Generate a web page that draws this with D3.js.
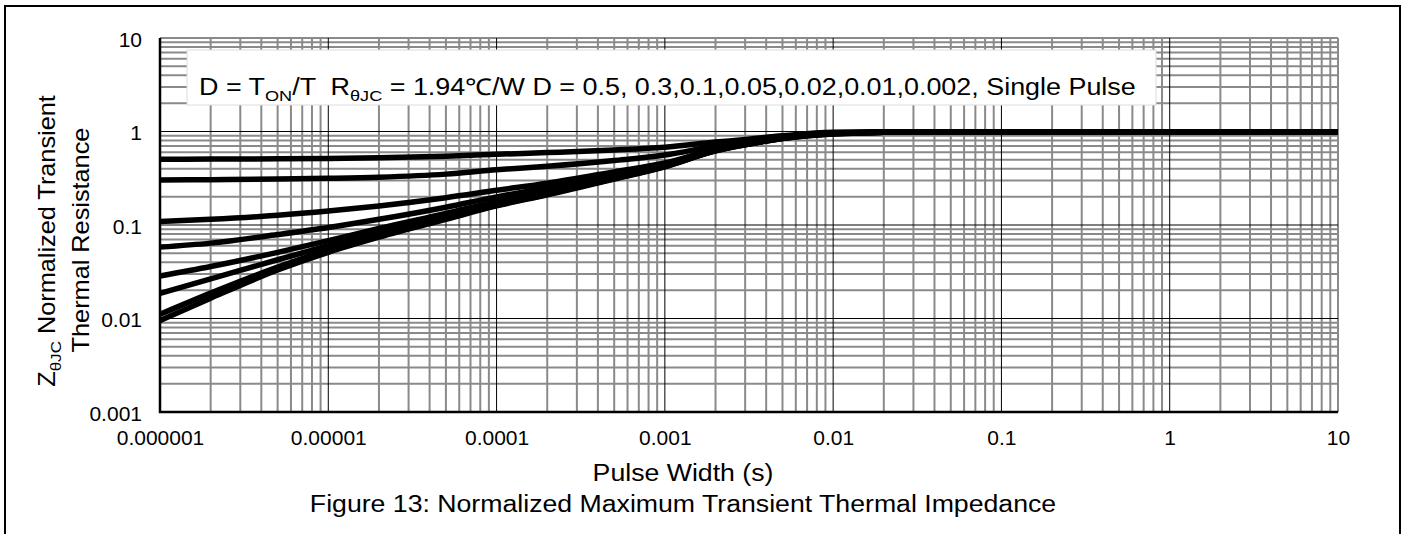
<!DOCTYPE html>
<html>
<head>
<meta charset="utf-8">
<script src="https://cdn.jsdelivr.net/npm/d3@7"></script>
<style>
  html, body { margin: 0; padding: 0; background: #fff; }
  svg { display: block; }
  text { font-family: Arial, "Liberation Sans", sans-serif; fill: #000; white-space: pre; }
</style>
</head>
<body>
<svg id="chart" width="1407" height="534"></svg>
<script>
// ---- data ----
const pulseWidth = [1e-6, 2e-6, 5e-6, 1e-5, 2e-5, 5e-5, 1e-4, 2e-4, 5e-4, 1e-3, 2e-3, 3e-3, 5e-3, 1e-2, 2e-2, 3e-2, 1e-1, 1, 10];
const zD050   = [0.505, 0.507, 0.510, 0.515, 0.525, 0.545, 0.570, 0.595, 0.635, 0.68, 0.77, 0.82, 0.90, 0.98, 0.99, 0.99, 0.99, 0.99, 0.99];
const zD030   = [0.303, 0.305, 0.310, 0.316, 0.325, 0.350, 0.390, 0.425, 0.490, 0.56, 0.70, 0.78, 0.88, 0.97, 0.99, 0.99, 0.99, 0.99, 0.99];
const zD010   = [0.109, 0.115, 0.127, 0.141, 0.160, 0.196, 0.235, 0.280, 0.370, 0.46, 0.65, 0.75, 0.86, 0.96, 0.985, 0.99, 0.99, 0.99, 0.99];
const zD005   = [0.058, 0.064, 0.079, 0.094, 0.115, 0.155, 0.200, 0.250, 0.345, 0.44, 0.64, 0.74, 0.855, 0.955, 0.985, 0.99, 0.99, 0.99, 0.99];
const zD002   = [0.0285, 0.036, 0.051, 0.068, 0.092, 0.133, 0.178, 0.230, 0.330, 0.43, 0.63, 0.73, 0.85, 0.95, 0.98, 0.99, 0.99, 0.99, 0.99];
const zD001   = [0.0186, 0.0265, 0.0425, 0.060, 0.083, 0.124, 0.168, 0.220, 0.320, 0.425, 0.625, 0.725, 0.845, 0.95, 0.98, 0.99, 0.99, 0.99, 0.99];
const zD0002  = [0.0111, 0.0187, 0.0354, 0.054, 0.077, 0.118, 0.162, 0.213, 0.313, 0.422, 0.62, 0.72, 0.84, 0.945, 0.98, 0.99, 0.99, 0.99, 0.99];
const zSingle = [0.0095, 0.0165, 0.033, 0.051, 0.074, 0.115, 0.160, 0.210, 0.310, 0.42, 0.62, 0.72, 0.84, 0.94, 0.98, 0.99, 0.99, 0.99, 0.99];
const seriesList = [zD050, zD030, zD010, zD005, zD002, zD001, zD0002, zSingle];

const xTickValues = [1e-6, 1e-5, 1e-4, 1e-3, 1e-2, 1e-1, 1, 10];
const xTickLabels = ["0.000001", "0.00001", "0.0001", "0.001", "0.01", "0.1", "1", "10"];
const yTickValues = [0.001, 0.01, 0.1, 1, 10];
const yTickLabels = ["0.001", "0.01", "0.1", "1", "10"];

// ---- layout ----
const svg = d3.select("#chart");
const L = 160, R = 1338, T = 38, B = 412;
const STRETCH = 1.16;

const x = d3.scaleLog().domain([1e-6, 10]).range([L, R]);
const y = d3.scaleLog().domain([0.001, 10]).range([B, T]);

// outer border
svg.append("rect").attr("x", 5).attr("y", 6).attr("width", 1395).attr("height", 560)
  .attr("fill", "none").attr("stroke", "#000").attr("stroke-width", 2);

const isDecade = v => Math.abs(Math.log10(v) - Math.round(Math.log10(v))) < 1e-9;
const xTicksAll = x.ticks();
const yTicksAll = y.ticks();

const grid = svg.append("g");
grid.selectAll(".vx").data(xTicksAll.filter(v => !isDecade(v) || v === 10)).join("line")
  .attr("x1", d => x(d)).attr("x2", d => x(d)).attr("y1", T).attr("y2", B)
  .attr("stroke", "#8a8a8a").attr("stroke-width", 2);
grid.selectAll(".hy").data(yTicksAll.filter(v => !isDecade(v) || v === 10)).join("line")
  .attr("y1", d => y(d)).attr("y2", d => y(d)).attr("x1", L).attr("x2", R)
  .attr("stroke", "#8a8a8a").attr("stroke-width", 2);
grid.selectAll(".mx").data(xTicksAll.filter(v => isDecade(v) && v !== 10 && v !== 1e-6)).join("line")
  .attr("x1", d => x(d)).attr("x2", d => x(d)).attr("y1", T).attr("y2", B)
  .attr("stroke", "#000").attr("stroke-width", 1);
grid.selectAll(".my").data(yTicksAll.filter(v => isDecade(v) && v !== 10 && v !== 0.001)).join("line")
  .attr("y1", d => y(d)).attr("y2", d => y(d)).attr("x1", L).attr("x2", R)
  .attr("stroke", "#000").attr("stroke-width", 1);

// legend box
svg.append("rect").attr("x", 187).attr("y", 50).attr("width", 969).attr("height", 55)
  .attr("fill", "#fff").attr("stroke", "#dcdcdc").attr("stroke-width", 1);
const lt = svg.append("g").attr("transform", `translate(199,95) scale(1.17,1)`)
  .append("text").attr("x", 0).attr("y", 0).attr("font-size", 23);
lt.append("tspan").text("D = T");
lt.append("tspan").attr("dy", 6).attr("font-size", 15.5).text("ON");
lt.append("tspan").attr("dy", -6).text("/T  R");
lt.append("tspan").attr("dy", 6).attr("font-size", 15.5).text("θJC");
lt.append("tspan").attr("dy", -6).text(" = 1.94℃/W D = 0.5, 0.3,0.1,0.05,0.02,0.01,0.002, Single Pulse");

// curves
const line = d3.line().x(d => x(d[0])).y(d => y(d[1])).curve(d3.curveMonotoneX);
svg.append("g").selectAll("path").data(seriesList).join("path")
  .attr("d", s => line(pulseWidth.map((p, i) => [p, s[i]])))
  .attr("fill", "none").attr("stroke", "#000").attr("stroke-width", 5.5)
  .attr("stroke-linejoin", "round");

// axes lines
svg.append("line").attr("x1", L).attr("x2", L).attr("y1", T).attr("y2", B + 1)
  .attr("stroke", "#000").attr("stroke-width", 2.5);
svg.append("line").attr("x1", L - 1).attr("x2", R).attr("y1", B).attr("y2", B)
  .attr("stroke", "#000").attr("stroke-width", 2.5);

// tick labels
const xAxis = d3.axisBottom(x).tickValues(xTickValues)
  .tickFormat((d, i) => xTickLabels[i]).tickSize(0).tickPadding(0);
const gx = svg.append("g").attr("transform", `translate(0,${B})`).call(xAxis);
gx.select(".domain").remove();
gx.selectAll("text").attr("font-size", 21).attr("dy", null).attr("y", 33).attr("fill", "#000");

const yAxis = d3.axisLeft(y).tickValues(yTickValues)
  .tickFormat((d, i) => yTickLabels[i]).tickSize(0).tickPadding(0);
const gy = svg.append("g").attr("transform", `translate(${L - 18},0)`).call(yAxis);
gy.select(".domain").remove();
gy.selectAll("text").attr("font-size", 21).attr("dy", null).attr("y", 8).attr("x", 0).attr("fill", "#000");

// axis titles (horizontally stretched text like the reference)
svg.append("g").attr("transform", `translate(683,481) scale(${STRETCH},1)`)
  .append("text").attr("text-anchor", "middle").attr("font-size", 23).text("Pulse Width (s)");
svg.append("g").attr("transform", `translate(683,512) scale(${STRETCH},1)`)
  .append("text").attr("text-anchor", "middle").attr("font-size", 23)
  .text("Figure 13: Normalized Maximum Transient Thermal Impedance");

const yt1 = svg.append("g").attr("transform", "translate(55,241) rotate(-90) scale(1.1,1)")
  .append("text").attr("text-anchor", "middle").attr("font-size", 23);
yt1.append("tspan").text("Z");
yt1.append("tspan").attr("dy", 6).attr("font-size", 15.5).text("θJC");
yt1.append("tspan").attr("dy", -6).text(" Normalized Transient");
svg.append("g").attr("transform", "translate(89,240) rotate(-90) scale(1.1,1)")
  .append("text").attr("text-anchor", "middle").attr("font-size", 23).text("Thermal Resistance");
</script>
</body>
</html>
